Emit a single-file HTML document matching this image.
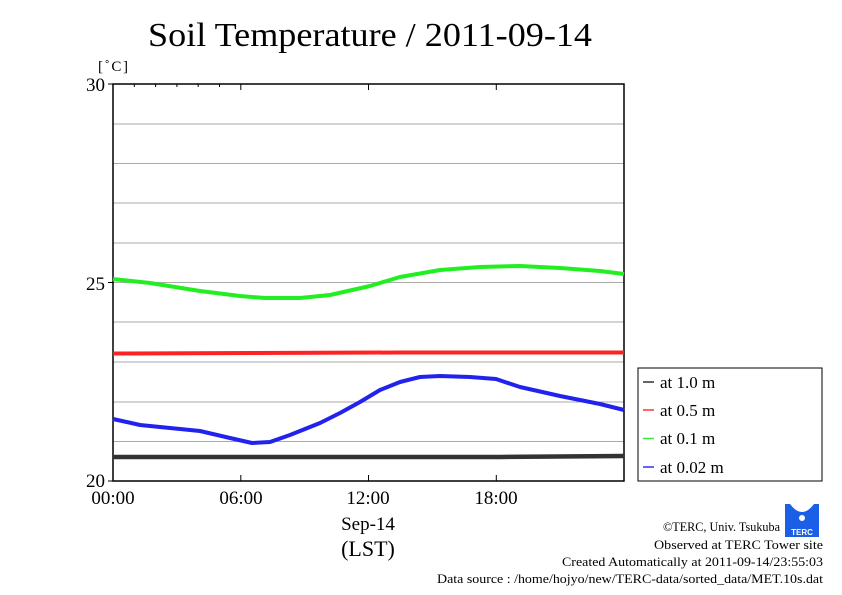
<!DOCTYPE html>
<html><head><style>body{margin:0;background:#fff}svg{display:block}</style></head><body>
<svg width="842" height="595" xmlns="http://www.w3.org/2000/svg" font-family="Liberation Serif, serif">
<rect width="842" height="595" fill="#fff"/>
<text x="148" y="46" font-size="34" textLength="444" lengthAdjust="spacingAndGlyphs">Soil Temperature / 2011-09-14</text>
<text x="98" y="71" font-size="15" textLength="30">[˚C]</text>
<g stroke="#aaa" stroke-width="1">
<line x1="113" x2="624" y1="124" y2="124"/><line x1="113" x2="624" y1="163.5" y2="163.5"/>
<line x1="113" x2="624" y1="203" y2="203"/><line x1="113" x2="624" y1="243" y2="243"/>
<line x1="113" x2="624" y1="282.5" y2="282.5"/><line x1="113" x2="624" y1="322" y2="322"/>
<line x1="113" x2="624" y1="362" y2="362"/><line x1="113" x2="624" y1="402" y2="402"/>
<line x1="113" x2="624" y1="441.5" y2="441.5"/>
</g>
<g stroke="#000" stroke-width="1">
<line x1="134.3" x2="134.3" y1="84" y2="87"/><line x1="155.6" x2="155.6" y1="84" y2="87"/><line x1="176.9" x2="176.9" y1="84" y2="87"/><line x1="198.2" x2="198.2" y1="84" y2="87"/><line x1="219.5" x2="219.5" y1="84" y2="87"/><line x1="240.8" x2="240.8" y1="84" y2="90"/>
<line x1="368.5" x2="368.5" y1="84" y2="90"/><line x1="496.3" x2="496.3" y1="84" y2="90"/>
<line x1="240.8" x2="240.8" y1="481" y2="475"/><line x1="368.5" x2="368.5" y1="481" y2="475"/><line x1="496.3" x2="496.3" y1="481" y2="475"/>
<line x1="108" x2="113" y1="282.5" y2="282.5"/><line x1="108" x2="113" y1="84" y2="84"/><line x1="108" x2="113" y1="481" y2="481"/>
</g>
<rect x="113" y="84" width="511" height="397" fill="none" stroke="#000" stroke-width="1.5"/>
<g fill="none" stroke-width="4" stroke-linejoin="round">
<polyline stroke="#22ee22" points="113,279 150,283 200,291 240,296 265,298 300,298 330,295 370,286 400,277 440,270 480,267 520,266 560,268 600,271 624,274"/>
<polyline stroke="#ff2222" points="113,353.5 250,353 400,352.5 624,352.5"/>
<polyline stroke="#2222ee" points="113,419 140,425 200,431 230,438 252,443 270,442 290,435 320,423 340,413 360,402 380,390 400,382 420,377 440,376 470,377 496,379 520,387 560,396 600,404 624,410"/>
<polyline stroke="#333" stroke-width="4.5" points="113,457 300,457 500,457 624,456"/>
</g>
<g font-size="19" text-anchor="end"><text x="105" y="91">30</text><text x="105" y="290">25</text><text x="105" y="487">20</text></g>
<g font-size="19" text-anchor="middle"><text x="113" y="504">00:00</text><text x="241" y="504">06:00</text><text x="368" y="504">12:00</text><text x="496" y="504">18:00</text>
<text x="368" y="530">Sep-14</text><text x="368" y="556" font-size="22">(LST)</text></g>
<rect x="638" y="368" width="184" height="113" fill="#fff" stroke="#000" stroke-width="1"/>
<g stroke-width="1.5"><line x1="643" x2="654" y1="382" y2="382" stroke="#333"/><line x1="643" x2="654" y1="410" y2="410" stroke="#ff3333"/><line x1="643" x2="654" y1="438.5" y2="438.5" stroke="#33ee33"/><line x1="643" x2="654" y1="467" y2="467" stroke="#3333ee"/></g>
<g font-size="17"><text x="660" y="388">at 1.0 m</text><text x="660" y="416">at 0.5 m</text><text x="660" y="444">at 0.1 m</text><text x="660" y="473">at 0.02 m</text></g>
<rect x="785" y="504" width="34" height="33" fill="#1a5fe6"/>
<path d="M790,504 Q802,520 814,504 Z" fill="#fff"/>
<circle cx="802" cy="518" r="3" fill="#fff"/>
<text x="802" y="535" font-size="8" fill="#fff" text-anchor="middle" font-family="Liberation Sans, sans-serif" font-weight="bold">TERC</text>
<g font-size="13"><text x="663" y="531" textLength="117" lengthAdjust="spacingAndGlyphs">©TERC, Univ. Tsukuba</text><text x="654" y="549" textLength="169" lengthAdjust="spacingAndGlyphs">Observed at TERC Tower site</text><text x="562" y="566" textLength="261" lengthAdjust="spacingAndGlyphs">Created Automatically at 2011-09-14/23:55:03</text><text x="437" y="583" textLength="386" lengthAdjust="spacingAndGlyphs">Data source : /home/hojyo/new/TERC-data/sorted_data/MET.10s.dat</text></g>
</svg>
</body></html>
